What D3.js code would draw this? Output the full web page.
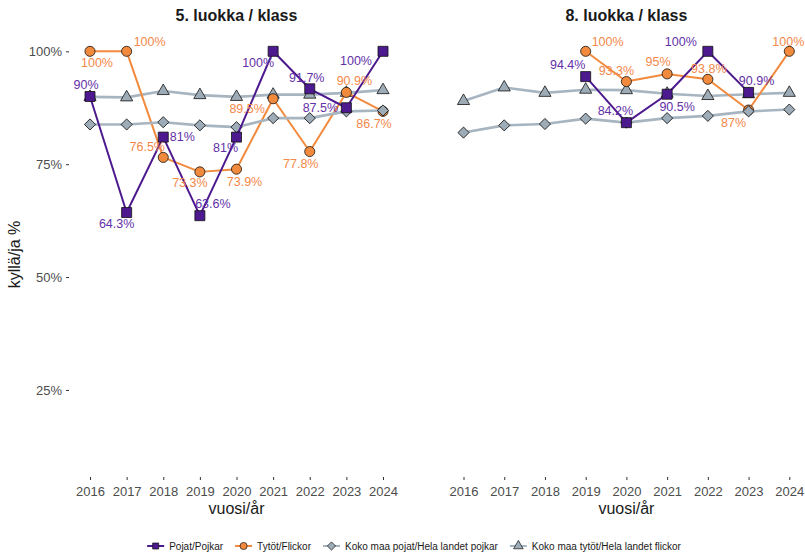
<!DOCTYPE html>
<html lang="en">
<head>
<meta charset="utf-8">
<title>kyllä/ja %</title>
<script src="https://d3js.org/d3.v7.min.js"></script>
<style>
  body { margin: 0; background: #fff; }
  svg text { font-family: "Liberation Sans", Arial, sans-serif; }
  .axis path { display: none; }
  .axis line { stroke: #333; }
  .axis text { fill: #4d4d4d; font-size: 13px; }
  .ptitle { font-size: 16px; font-weight: bold; fill: #1a1a1a; }
  .atitle { font-size: 16px; fill: #1a1a1a; }
  .lbl { font-size: 12.5px; }
  .legend text { font-size: 10px; fill: #1a1a1a; }
</style>
</head>
<body>
<div id="vis"></div>
<script>
var years = [2016, 2017, 2018, 2019, 2020, 2021, 2022, 2023, 2024];
var panelTitles = ["5. luokka / klass", "8. luokka / klass"];
var seriesNames = ["Pojat/Pojkar", "Tytöt/Flickor", "Koko maa pojat/Hela landet pojkar", "Koko maa tytöt/Hela landet flickor"];
var yTicks = [0.25, 0.5, 0.75, 1];

// 5. luokka
var boys5 = [0.90, 0.643, 0.81, 0.636, 0.81, 1.00, 0.917, 0.875, 1.00];
var girls5 = [1.00, 1.00, 0.765, 0.733, 0.739, 0.895, 0.778, 0.909, 0.867];
var natBoys5 = [0.838, 0.838, 0.843, 0.836, 0.832, 0.852, 0.852, 0.867, 0.869];
var natGirls5 = [0.899, 0.898, 0.912, 0.903, 0.899, 0.904, 0.904, 0.908, 0.914];

// 8. luokka
var boys8 = [null, null, null, 0.944, 0.842, 0.905, 1.00, 0.909, null];
var girls8 = [null, null, null, 1.00, 0.933, 0.95, 0.938, 0.87, 1.00];
var natBoys8 = [0.820, 0.836, 0.839, 0.851, 0.842, 0.852, 0.857, 0.867, 0.871];
var natGirls8 = [0.890, 0.920, 0.908, 0.915, 0.914, 0.906, 0.901, 0.905, 0.908];

// label offsets (px) from the point, roughly like the repelled labels
var nudge5 = {
  boys: [[-4,-12],[-10,11],[19,0],[13,-12],[-11,11],[-15,11],[-3,-11],[-26,0],[-27,9]],
  girls: [[7,11],[23,-10],[-16,-11],[-10,11],[8,12],[-26,10],[-9,12],[8,-12],[-9,12]]
};
var nudge8 = {
  boys: [null,null,null,[-18,-12],[-11,-12],[10,12],[-27,-10],[8,-12],null],
  girls: [null,null,null,[22,-10],[-10,-11],[-9,-12],[1,-11],[-15,13],[-1,-10]]
};

var W = 805, H = 552;
var purple = "#4c1a8e", purpleTxt = "#6330a8";
var orange = "#f28a3d", orangeTxt = "#f4884a";
var grayLine = "#a7b5c0", grayFill = "#9eacb7";

var svg = d3.select("#vis").append("svg")
  .attr("width", W).attr("height", H);

var y = d3.scaleLinear().domain([0.055, 1.045]).range([478, 31]);
var x5 = d3.scaleLinear().domain([2016, 2024]).range([90, 383]);
var x8 = d3.scaleLinear().domain([2016, 2024]).range([463.5, 789.3]);
var pct = d3.format(".3~p");

var shapes = {
  square: d3.symbol().type(d3.symbolSquare).size(100),
  circle: d3.symbol().type(d3.symbolCircle).size(80),
  diamond: d3.symbol().type(d3.symbolSquare).size(62),
  triangle: d3.symbol().type(d3.symbolTriangle).size(64)
};

// y axis (only on left panel)
svg.append("g")
  .attr("class", "axis")
  .attr("transform", "translate(69,0)")
  .call(d3.axisLeft(y).tickValues(yTicks).tickFormat(d3.format(".0%")).tickSize(3).tickPadding(4));

svg.append("text")
  .attr("class", "atitle")
  .attr("transform", "translate(20," + ((y.range()[0] + y.range()[1]) / 2) + ") rotate(-90)")
  .attr("text-anchor", "middle")
  .text("kyllä/ja %");

function drawPanel(x, title, boys, girls, natBoys, natGirls, nudge) {
  var g = svg.append("g");
  var mid = (x.range()[0] + x.range()[1]) / 2;

  g.append("text").attr("class", "ptitle")
    .attr("x", mid).attr("y", 21).attr("text-anchor", "middle")
    .text(title);

  g.append("g")
    .attr("class", "axis")
    .attr("transform", "translate(0,477)")
    .call(d3.axisBottom(x).tickValues(years).tickFormat(d3.format("d")).tickSize(3).tickPadding(7));

  g.append("text").attr("class", "atitle")
    .attr("x", mid).attr("y", 514).attr("text-anchor", "middle")
    .text("vuosi/år");

  var line = d3.line()
    .defined(function(d) { return d.v != null; })
    .x(function(d) { return x(d.year); })
    .y(function(d) { return y(d.v); });

  function rows(vals) {
    return years.map(function(yr, i) { return { year: yr, v: vals[i], i: i }; });
  }

  function series(vals, col, lw, shape, fill, rot) {
    var data = rows(vals);
    g.append("path").datum(data)
      .attr("fill", "none").attr("stroke", col).attr("stroke-width", lw)
      .attr("stroke-linejoin", "round")
      .attr("d", line);
    g.selectAll(null).data(data.filter(function(d) { return d.v != null; }))
      .enter().append("path")
      .attr("transform", function(d) {
        return "translate(" + x(d.year) + "," + y(d.v) + ")" + (rot ? " rotate(45)" : "");
      })
      .attr("d", shapes[shape])
      .attr("fill", fill).attr("stroke", "#111").attr("stroke-width", 0.8);
  }

  series(natGirls, grayLine, 2.6, "triangle", grayFill, false);
  series(girls, orange, 2, "circle", orange, false);
  series(natBoys, grayLine, 2.6, "diamond", grayFill, true);
  series(boys, purple, 2, "square", purple, false);

  function labels(vals, offs, col) {
    var data = rows(vals).filter(function(d) { return d.v != null; });
    g.selectAll(null).data(data).enter().append("text")
      .attr("class", "lbl")
      .attr("fill", col)
      .attr("text-anchor", "middle")
      .attr("dy", "0.35em")
      .attr("x", function(d) { return x(d.year) + offs[d.i][0]; })
      .attr("y", function(d) { return y(d.v) + offs[d.i][1]; })
      .text(function(d) { return pct(d.v); });
  }
  labels(boys, nudge.boys, purpleTxt);
  labels(girls, nudge.girls, orangeTxt);
}

drawPanel(x5, panelTitles[0], boys5, girls5, natBoys5, natGirls5, nudge5);
drawPanel(x8, panelTitles[1], boys8, girls8, natBoys8, natGirls8, nudge8);

// legend
var legendDefs = [
  { col: purple, shape: "square", fill: purple, rot: false, sz: 36 },
  { col: orange, shape: "circle", fill: orange, rot: false, sz: 40 },
  { col: grayLine, shape: "diamond", fill: grayFill, rot: true, sz: 34 },
  { col: grayLine, shape: "triangle", fill: grayFill, rot: false, sz: 40 }
];
var legend = svg.append("g").attr("class", "legend");
var lx = 0, keyW = 17, gap = 5, spacing = 12, ly = 546;
seriesNames.forEach(function(name, i) {
  var d = legendDefs[i];
  var it = legend.append("g").attr("transform", "translate(" + lx + ",0)");
  it.append("line").attr("x1", 0).attr("x2", keyW).attr("y1", ly).attr("y2", ly)
    .attr("stroke", d.col).attr("stroke-width", 2);
  it.append("path")
    .attr("transform", "translate(" + (keyW / 2) + "," + ly + ")" + (d.rot ? " rotate(45)" : ""))
    .attr("d", d3.symbol().type(d.shape === "circle" ? d3.symbolCircle : d.shape === "triangle" ? d3.symbolTriangle : d3.symbolSquare).size(d.sz))
    .attr("fill", d.fill).attr("stroke", "#111").attr("stroke-width", 0.7);
  var t = it.append("text").attr("x", keyW + gap).attr("y", ly).attr("dy", "0.35em").text(name);
  lx += keyW + gap + t.node().getComputedTextLength() + spacing;
});
var total = lx - spacing;
legend.attr("transform", "translate(" + (414 - total / 2) + ",0)");
</script>
</body>
</html>
